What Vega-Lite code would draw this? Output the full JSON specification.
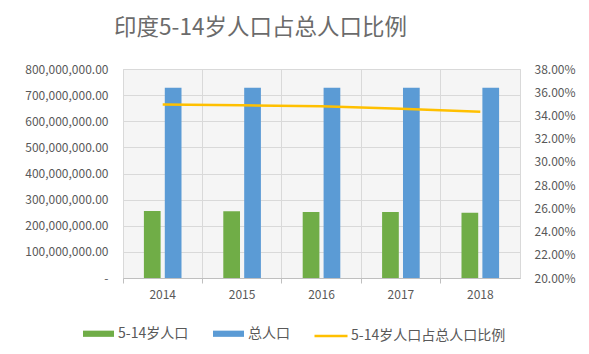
{
  "$schema": "https://vega.github.io/schema/vega-lite/v6.json",
  "autosize": {"type": "none"},
  "padding": {"left": 123, "top": 69, "right": 69, "bottom": 76},
  "width": 397,
  "height": 209,
  "background": "white",
  "title": {
    "text": "印度5-14岁人口占总人口比例",
    "font": "Noto Sans CJK SC",
    "fontSize": 22.5,
    "fontWeight": "normal",
    "color": "#6b6b6b",
    "anchor": "middle",
    "dx": -61,
    "offset": 24
  },
  "config": {
    "font": "Noto Sans CJK SC",
    "view": {"stroke": "#d9d9d9", "fill": "#f5f5f5"},
    "axis": {
      "labelFont": "Noto Sans CJK SC",
      "labelColor": "#595959",
      "labelFontSize": 12,
      "gridColor": "#d9d9d9",
      "domainColor": "#bfbfbf",
      "tickColor": "#bfbfbf"
    },
    "legend": {
      "labelFont": "Noto Sans CJK SC",
      "labelFontSize": 14,
      "labelColor": "#595959",
      "padding": 0
    }
  },
  "datasets": {
    "bars": [
      {"year": "2014", "series": "5-14岁人口", "value": 256000000},
      {"year": "2014", "series": "总人口", "value": 728000000},
      {"year": "2015", "series": "5-14岁人口", "value": 255500000},
      {"year": "2015", "series": "总人口", "value": 728000000},
      {"year": "2016", "series": "5-14岁人口", "value": 253000000},
      {"year": "2016", "series": "总人口", "value": 728000000},
      {"year": "2017", "series": "5-14岁人口", "value": 252500000},
      {"year": "2017", "series": "总人口", "value": 728000000},
      {"year": "2018", "series": "5-14岁人口", "value": 249500000},
      {"year": "2018", "series": "总人口", "value": 728000000}
    ],
    "ratio": [
      {"year": "2014", "name": "5-14岁人口占总人口比例", "ratio": 0.3495},
      {"year": "2015", "name": "5-14岁人口占总人口比例", "ratio": 0.3487},
      {"year": "2016", "name": "5-14岁人口占总人口比例", "ratio": 0.3479},
      {"year": "2017", "name": "5-14岁人口占总人口比例", "ratio": 0.3458},
      {"year": "2018", "name": "5-14岁人口占总人口比例", "ratio": 0.3432}
    ]
  },
  "encoding": {
    "x": {
      "field": "year",
      "type": "nominal",
      "scale": {"paddingInner": 0, "paddingOuter": 0},
      "axis": {
        "title": null,
        "labelAngle": 0,
        "grid": true,
        "bandPosition": 0,
        "tickSize": 5,
        "labelPadding": 6,
        "domainColor": "#bfbfbf"
      }
    }
  },
  "layer": [
    {
      "data": {"name": "bars"},
      "mark": {"type": "bar"},
      "encoding": {
        "xOffset": {
          "field": "series",
          "type": "nominal",
          "scale": {"domain": ["5-14岁人口", "总人口"], "paddingInner": 0.2, "paddingOuter": 1.0}
        },
        "y": {
          "field": "value",
          "type": "quantitative",
          "scale": {"domain": [0, 800000000]},
          "axis": {
            "title": null,
            "values": [0, 100000000, 200000000, 300000000, 400000000, 500000000, 600000000, 700000000, 800000000],
            "labelExpr": "datum.value == 0 ? '-\u00a0\u00a0\u00a0\u00a0' : format(datum.value, ',.2f')",
            "domain": false,
            "ticks": false,
            "labelPadding": 15,
            "grid": true
          }
        },
        "color": {
          "field": "series",
          "type": "nominal",
          "scale": {"domain": ["5-14岁人口", "总人口"], "range": ["#70AD47", "#5B9BD5"]},
          "legend": {
            "title": null,
            "orient": "none",
            "legendX": -40,
            "legendY": 249,
            "direction": "horizontal",
            "symbolType": "M-1,-0.2H1V0.2H-1Z",
            "symbolSize": 961,
            "symbolStrokeWidth": 0,
            "columnPadding": 24,
            "labelOffset": 4
          }
        }
      }
    },
    {
      "data": {"name": "ratio"},
      "mark": {"type": "line", "strokeWidth": 2.5},
      "encoding": {
        "y": {
          "field": "ratio",
          "type": "quantitative",
          "scale": {"domain": [0.2, 0.38], "zero": false},
          "axis": {
            "title": null,
            "orient": "right",
            "values": [0.2, 0.22, 0.24, 0.26, 0.28, 0.3, 0.32, 0.34, 0.36, 0.38],
            "format": ".2%",
            "domain": false,
            "ticks": false,
            "grid": false,
            "labelPadding": 14
          }
        },
        "stroke": {
          "field": "name",
          "type": "nominal",
          "scale": {"range": ["#FFC000"]},
          "legend": {
            "title": null,
            "orient": "none",
            "legendX": 190,
            "legendY": 249,
            "symbolType": "stroke",
            "symbolSize": 1089,
            "symbolStrokeWidth": 2.5,
            "labelOffset": 2
          }
        }
      }
    }
  ],
  "resolve": {"scale": {"y": "independent", "color": "independent"}}
}
